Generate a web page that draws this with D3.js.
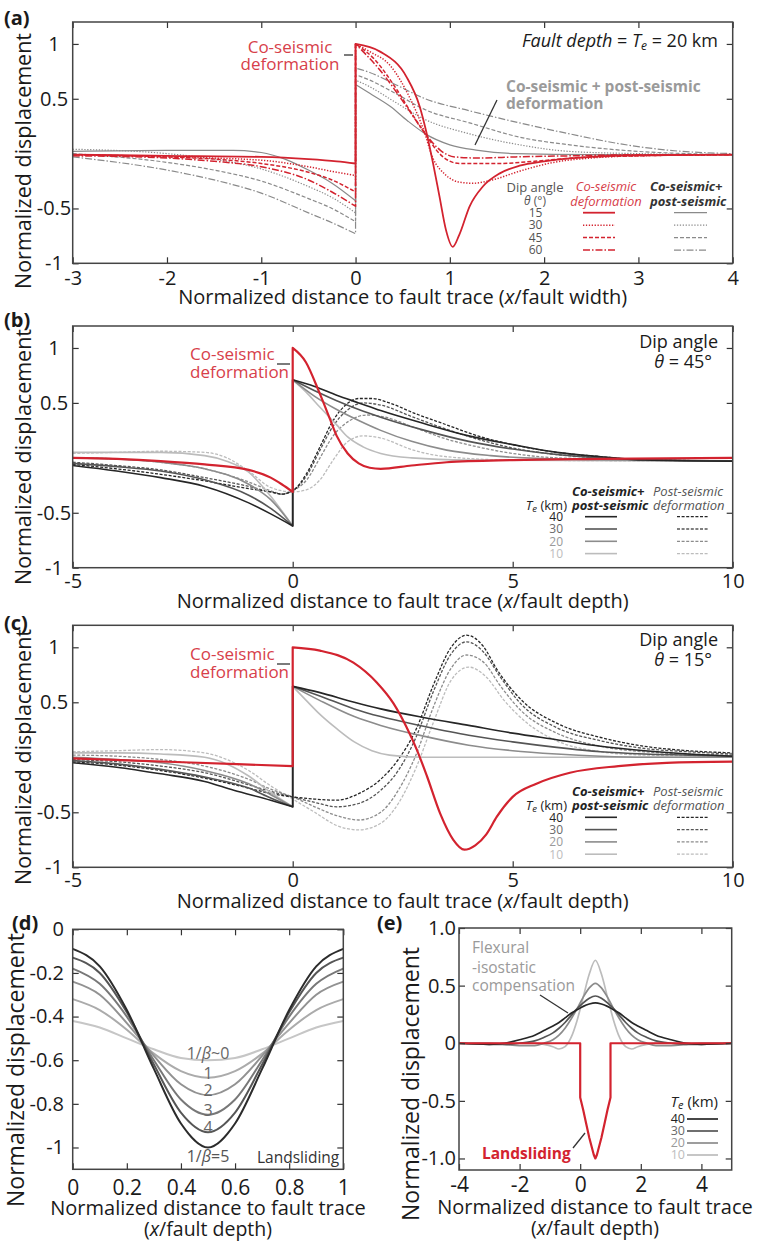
<!DOCTYPE html>
<html>
<head>
<meta charset="utf-8">
<script src="https://cdn.jsdelivr.net/npm/d3@7"></script>
<style>
  body { margin: 0; background: #fff; }
  svg text { font-family: "Open Sans", sans-serif; }
</style>
</head>
<body>
<svg id="fig" width="758" height="1244"></svg>
<script>
// ---------- (a) co-seismic vs co+post-seismic for four dip angles ----------
const aDipAngles = ["15", "30", "45", "60"];
const aXTicks = [-3, -2, -1, 0, 1, 2, 3, 4];
const aYTicks = [-1, -0.5, 0.5, 1];

const aCo15 = [[-3,-0.01],[-2,-0.02],[-1,-0.03],[-0.5,-0.05],[-0.2,-0.07],[0,-0.09],
  [0,1.0],[0.26,0.93],[0.54,0.7],[0.68,0.43],[0.75,0.2],[0.82,-0.08],[0.89,-0.39],[0.96,-0.7],[1.03,-0.85],
  [1.1,-0.74],[1.21,-0.48],[1.35,-0.3],[1.53,-0.18],[1.74,-0.11],[2.0,-0.07],[2.5,-0.03],[3.0,-0.015],[4,-0.01]];
const aCo30 = [[-3,-0.01],[-2,-0.03],[-1,-0.06],[-0.5,-0.12],[-0.2,-0.17],[0,-0.2],
  [0,1.0],[0.15,0.93],[0.37,0.8],[0.58,0.5],[0.72,0.22],[0.82,-0.04],[0.95,-0.19],[1.1,-0.26],[1.25,-0.27],
  [1.45,-0.24],[1.74,-0.16],[2.1,-0.08],[2.5,-0.04],[3,-0.02],[4,-0.01]];
const aCo45 = [[-3,-0.01],[-2,-0.03],[-1.5,-0.05],[-1,-0.09],[-0.5,-0.17],[-0.25,-0.24],[0,-0.35],
  [0,1.0],[0.2,0.86],[0.44,0.58],[0.6,0.36],[0.74,0.18],[0.89,0.0],[1.1,-0.09],[1.5,-0.09],[1.9,-0.07],
  [2.3,-0.04],[3,-0.02],[4,-0.01]];
const aCo60 = [[-3,-0.02],[-2,-0.04],[-1.5,-0.07],[-1,-0.12],[-0.5,-0.24],[-0.25,-0.35],[0,-0.48],
  [0,1.0],[0.26,0.76],[0.54,0.43],[0.74,0.18],[0.9,0.03],[1.05,-0.03],[1.3,-0.04],[1.7,-0.03],[2.3,-0.02],
  [3,-0.01],[4,-0.01]];

const aTot15 = [[-3,0.02],[-2,0.03],[-1.3,0.03],[-1,0.01],[-0.75,-0.05],[-0.5,-0.15],[-0.25,-0.27],[0,-0.43],
  [0,0.63],[0.15,0.55],[0.37,0.43],[0.55,0.3],[0.74,0.18],[1.0,0.08],[1.3,0.03],[1.7,0.0],[2.5,-0.01],[4,-0.01]];
const aTot30 = [[-3,0.04],[-2,0.0],[-1.5,-0.05],[-1,-0.14],[-0.5,-0.3],[-0.25,-0.4],[0,-0.54],
  [0,0.67],[0.15,0.61],[0.4,0.48],[0.74,0.31],[1.21,0.18],[1.74,0.08],[2.27,0.02],[3,0.0],[4,-0.01]];
const aTot45 = [[-3,0.0],[-2,-0.08],[-1.5,-0.15],[-1,-0.25],[-0.5,-0.41],[-0.25,-0.5],[0,-0.62],
  [0,0.72],[0.15,0.67],[0.4,0.56],[0.74,0.4],[1.21,0.28],[1.74,0.15],[2.27,0.08],[3,0.02],[3.5,0.0],[4,-0.01]];
const aTot60 = [[-3,-0.03],[-2,-0.15],[-1.5,-0.24],[-1,-0.36],[-0.5,-0.54],[-0.25,-0.63],[0,-0.73],
  [0,0.78],[0.15,0.74],[0.4,0.64],[0.74,0.5],[1.21,0.39],[1.74,0.28],[2.27,0.18],[2.8,0.09],[3.33,0.03],[4,0.0]];

// ---------- (b) dip 45°, four elastic thicknesses ----------
const teValues = ["40", "30", "20", "10"];
const bcXTicks = [-5, 0, 5, 10];
const bcYTicks = [-1, -0.5, 0.5, 1];

const bCo = [[-5,0.0],[-4,-0.01],[-3,-0.03],[-2,-0.06],[-1,-0.11],[-0.5,-0.18],[-0.25,-0.24],[0,-0.31],
  [0,1.0],[0.3,0.87],[0.6,0.6],[0.85,0.35],[1.0,0.2],[1.25,0.04],[1.5,-0.05],[1.75,-0.09],[2.0,-0.1],
  [2.7,-0.07],[3.5,-0.04],[5,-0.02],[7,-0.01],[10,0.0]];
const bTot40 = [[-5,-0.07],[-4,-0.12],[-3,-0.18],[-2,-0.26],[-1,-0.41],[-0.5,-0.51],[0,-0.62],
  [0,0.71],[0.5,0.65],[1,0.57],[1.5,0.5],[2,0.43],[3,0.31],[4,0.2],[5,0.12],[6,0.05],[7,0.01],[8,-0.02],[10,-0.03]];
const bTot30 = [[-5,-0.05],[-4,-0.08],[-3,-0.12],[-2,-0.2],[-1,-0.34],[-0.5,-0.46],[0,-0.62],
  [0,0.71],[0.5,0.61],[1,0.52],[1.5,0.44],[2,0.37],[3,0.25],[4,0.15],[5,0.08],[6,0.03],[7,0.0],[10,-0.03]];
const bTot20 = [[-5,0.0],[-4,-0.01],[-3,-0.04],[-2,-0.1],[-1,-0.24],[-0.5,-0.38],[0,-0.62],
  [0,0.71],[0.5,0.56],[1,0.44],[1.5,0.34],[2,0.25],[2.7,0.15],[3.5,0.07],[4.5,0.02],[6,-0.01],[10,-0.03]];
const bTot10 = [[-5,0.05],[-4,0.05],[-3,0.05],[-2,0.02],[-1.5,-0.03],[-1,-0.13],[-0.5,-0.35],[0,-0.62],
  [0,0.71],[0.3,0.6],[0.62,0.46],[1,0.3],[1.25,0.19],[1.6,0.1],[2,0.04],[2.7,0.0],[4,-0.02],[10,-0.03]];
const bPost40 = [[-5,-0.06],[-4,-0.1],[-3,-0.15],[-2,-0.21],[-1,-0.28],[-0.5,-0.31],[-0.25,-0.33],[0,-0.3],
  [0.32,-0.14],[0.62,0.1],[0.92,0.34],[1.23,0.49],[1.5,0.54],[1.8,0.54],[2.2,0.5],[2.74,0.41],[3.5,0.3],
  [4.2,0.2],[5,0.12],[6,0.05],[7,0.01],[8,-0.02],[10,-0.03]];
const bPost30 = [[-5,-0.04],[-4,-0.07],[-3,-0.11],[-2,-0.18],[-1,-0.26],[-0.5,-0.31],[-0.25,-0.33],[0,-0.3],
  [0.32,-0.16],[0.62,0.07],[0.92,0.29],[1.23,0.43],[1.6,0.5],[2,0.48],[2.74,0.37],[3.5,0.26],[4.2,0.17],
  [5,0.09],[6,0.03],[7,0.0],[10,-0.03]];
const bPost20 = [[-5,0.0],[-4,-0.01],[-3,-0.04],[-2,-0.1],[-1,-0.22],[-0.5,-0.3],[-0.25,-0.33],[0,-0.3],
  [0.32,-0.2],[0.62,0.0],[0.92,0.2],[1.3,0.34],[1.7,0.39],[2.1,0.37],[2.74,0.28],[3.5,0.17],[4.2,0.1],
  [5,0.04],[6,0.0],[10,-0.03]];
const bPost10 = [[-5,0.04],[-4,0.05],[-3,0.06],[-2,0.05],[-1.5,0.0],[-1,-0.12],[-0.5,-0.27],[0,-0.31],
  [0.32,-0.29],[0.62,-0.2],[0.92,-0.02],[1.23,0.14],[1.6,0.2],[2,0.18],[2.74,0.07],[3.5,0.01],[5,-0.02],[10,-0.03]];

// ---------- (c) dip 15° ----------
const cCo = [[-5,-0.01],[-2.5,-0.045],[0,-0.08],
  [0,1.0],[0.62,0.97],[1.38,0.86],[1.91,0.68],[2.29,0.49],[2.58,0.28],[2.82,0.07],[3.05,-0.17],[3.35,-0.51],
  [3.65,-0.75],[3.9,-0.84],[4.15,-0.8],[4.4,-0.7],[4.64,-0.54],[5.0,-0.36],[5.54,-0.24],[6.3,-0.14],
  [7.4,-0.08],[8.5,-0.05],[10,-0.04]];
const cTot40 = [[-5,-0.05],[-4,-0.09],[-3,-0.15],[-2,-0.22],[-1.34,-0.3],[-0.5,-0.39],[0,-0.45],
  [0,0.645],[0.6,0.59],[1.4,0.5],[2,0.44],[3,0.36],[4,0.29],[5,0.22],[6,0.16],[7,0.1],[8,0.06],[9,0.03],[10,0.01]];
const cTot30 = [[-5,-0.03],[-4,-0.06],[-3,-0.11],[-2,-0.18],[-1,-0.28],[-0.5,-0.37],[0,-0.45],
  [0,0.645],[0.6,0.56],[1.4,0.44],[2,0.37],[3,0.28],[4,0.2],[5,0.14],[6,0.09],[7,0.05],[8,0.03],[9,0.02],[10,0.01]];
const cTot20 = [[-5,0.0],[-4,-0.02],[-3,-0.05],[-2,-0.12],[-1,-0.24],[-0.5,-0.34],[0,-0.45],
  [0,0.645],[0.6,0.52],[1.4,0.37],[2,0.29],[3,0.19],[4,0.11],[5,0.06],[6,0.03],[7,0.01],[8,0.0],[10,0.0]];
const cTot10 = [[-5,0.04],[-4,0.04],[-3,0.03],[-2,0.0],[-1.5,-0.06],[-1,-0.17],[-0.5,-0.32],[0,-0.45],
  [0,0.645],[0.3,0.52],[0.62,0.39],[1,0.26],[1.4,0.14],[1.8,0.06],[2.2,0.02],[3,0.0],[10,0.0]];
const cPost40 = [[-5,-0.04],[-4,-0.07],[-3,-0.12],[-2,-0.19],[-1,-0.28],[-0.5,-0.33],[0,-0.36],[0.5,-0.38],
  [1,-0.39],[1.5,-0.33],[2,-0.2],[2.4,-0.02],[2.8,0.25],[3.2,0.66],[3.6,1.0],[3.95,1.11],[4.33,1.01],
  [4.64,0.8],[5.2,0.52],[6,0.31],[7,0.18],[8,0.1],[9,0.06],[10,0.04]];
const cPost30 = [[-5,-0.02],[-4,-0.04],[-3,-0.08],[-2,-0.14],[-1,-0.25],[-0.5,-0.31],[0,-0.36],[0.5,-0.41],
  [1,-0.45],[1.5,-0.42],[2,-0.3],[2.4,-0.12],[2.8,0.18],[3.2,0.6],[3.6,0.94],[3.95,1.05],[4.33,0.96],
  [4.7,0.74],[5.2,0.48],[6,0.27],[7,0.15],[8,0.08],[9,0.05],[10,0.03]];
const cPost20 = [[-5,0.02],[-4,0.01],[-3,-0.02],[-2,-0.08],[-1,-0.2],[-0.5,-0.29],[0,-0.36],[0.5,-0.45],
  [1,-0.53],[1.5,-0.57],[2,-0.5],[2.4,-0.3],[2.8,0.02],[3.2,0.46],[3.6,0.81],[3.95,0.93],[4.35,0.86],
  [4.7,0.66],[5.2,0.42],[6,0.22],[7,0.1],[8,0.05],[10,0.02]];
const cPost10 = [[-5,0.05],[-4,0.06],[-3,0.07],[-2,0.04],[-1.5,-0.02],[-1,-0.12],[-0.5,-0.26],[0,-0.38],
  [0.5,-0.5],[1,-0.62],[1.5,-0.66],[2,-0.6],[2.4,-0.42],[2.8,-0.1],[3.2,0.32],[3.6,0.7],[4.0,0.82],
  [4.4,0.73],[4.8,0.52],[5.3,0.32],[6,0.15],[7,0.05],[8,0.02],[10,0.01]];

// ---------- (d) landslide profiles for 1/beta = 0..5 ----------
const dX = [0, 0.1, 0.2, 0.3, 0.4, 0.5, 0.6, 0.7, 0.8, 0.9, 1];
const dBeta0 = [-0.42,-0.45,-0.5,-0.55,-0.59,-0.6,-0.59,-0.55,-0.5,-0.45,-0.42];
const dBeta1 = [-0.32,-0.37,-0.46,-0.57,-0.65,-0.68,-0.65,-0.57,-0.46,-0.37,-0.32];
const dBeta2 = [-0.24,-0.3,-0.43,-0.58,-0.71,-0.76,-0.71,-0.58,-0.43,-0.3,-0.24];
const dBeta3 = [-0.18,-0.25,-0.4,-0.6,-0.78,-0.85,-0.78,-0.6,-0.4,-0.25,-0.18];
const dBeta4 = [-0.13,-0.2,-0.38,-0.62,-0.84,-0.93,-0.84,-0.62,-0.38,-0.2,-0.13];
const dBeta5 = [-0.09,-0.17,-0.37,-0.64,-0.89,-1.0,-0.89,-0.64,-0.37,-0.17,-0.09];
const dLabels = ["1/β~0", "1", "2", "3", "4"];
const dXTicks = [0, 0.2, 0.4, 0.6, 0.8, 1];
const dYTicks = [0, -0.2, -0.4, -0.6, -0.8, -1];

// ---------- (e) landslide load and flexural-isostatic response ----------
const eX = [-4,-3,-2.5,-2,-1.5,-1.2,-0.9,-0.7,-0.5,-0.3,-0.1,0.1,0.3,0.5,0.7,0.9,1.1,1.3,1.5,1.7,1.9,2.2,2.5,3,3.5,4,5];
const eTe40 = [0,-0.01,0,0.03,0.07,0.11,0.15,0.18,0.22,0.26,0.29,0.32,0.34,0.35,0.34,0.32,0.29,0.26,0.22,0.18,0.15,0.11,0.07,0.03,0,-0.01,0];
const eTe30 = [0,-0.01,-0.01,0,0.02,0.05,0.09,0.13,0.18,0.24,0.3,0.35,0.39,0.41,0.39,0.35,0.3,0.24,0.18,0.13,0.09,0.05,0.02,0,-0.01,-0.01,0];
const eTe20 = [0,0,-0.01,-0.02,-0.02,0,0.03,0.07,0.13,0.21,0.3,0.4,0.48,0.52,0.48,0.4,0.3,0.21,0.13,0.07,0.03,0,-0.02,-0.02,-0.01,0,0];
const eTe10 = [0,0,0,0,0,-0.01,-0.03,-0.05,-0.03,0.05,0.2,0.4,0.6,0.72,0.6,0.4,0.2,0.05,-0.03,-0.05,-0.03,-0.01,0,0,0,0,0];
const eSlideX = [-4,0,0,0.1,0.2,0.3,0.4,0.45,0.5,0.55,0.6,0.7,0.8,0.9,1,1,5];
const eSlideY = [0,0,-0.47,-0.58,-0.7,-0.82,-0.92,-0.97,-1.0,-0.97,-0.92,-0.82,-0.7,-0.58,-0.47,0,0];
const eXTicks = [-4, -2, 0, 2, 4];
const eYTicks = [1, 0.5, 0, -0.5, -1];
const eYLabels = ["1.0", "0.5", "0", "-0.5", "-1.0"];

// ---------- drawing ----------
const svg = d3.select("#fig");
const RED = "#d3232f";
const RED_TEXT = "#d7404a";
const GRAY_A = "#8a8a8a";
const TE_LINE = ["#262626", "#555555", "#8c8c8c", "#bcbcbc"];
const TE_TEXT = ["#222222", "#6a6a6a", "#9a9a9a", "#bdbdbd"];
const DASH_A = [null, "1.3,1.6", "4,2", "7,2,1.5,2"];

let clipId = 0;
function makePanel(left, right, top, bottom, xd, yd) {
  const x = d3.scaleLinear().domain(xd).range([left, right]);
  const y = d3.scaleLinear().domain(yd).range([bottom, top]);
  const g = svg.append("g");
  const id = "clip" + (clipId++);
  g.append("clipPath").attr("id", id).append("rect")
    .attr("x", left).attr("y", top).attr("width", right - left).attr("height", bottom - top);
  const plot = g.append("g").attr("clip-path", `url(#${id})`);
  return { x, y, g, plot, left, right, top, bottom };
}

function axes(P, o) {
  const fmt = o.xf || (d => String(d));
  const gx = P.g.append("g").attr("transform", `translate(0,${P.bottom})`)
    .call(d3.axisBottom(P.x).tickValues(o.xt).tickSize(-6).tickPadding(o.xpad).tickFormat(fmt));
  const gy = P.g.append("g").attr("transform", `translate(${P.left},0)`)
    .call(d3.axisLeft(P.y).tickValues(o.yt).tickSize(-6).tickPadding(o.ypad).tickFormat(o.yf || (d => String(d))));
  P.g.append("g").attr("transform", `translate(0,${P.top})`)
    .call(d3.axisTop(P.x).tickValues(o.xt).tickSize(-6).tickFormat(""));
  P.g.append("g").attr("transform", `translate(${P.right},0)`)
    .call(d3.axisRight(P.y).tickValues(o.yt).tickSize(-6).tickFormat(""));
  P.g.selectAll(".domain").remove();
  P.g.selectAll(".tick line").attr("stroke", "#333").attr("stroke-width", 1.2);
  [gx, gy].forEach(a => a.attr("font-family", null).attr("font-size", o.fs).selectAll("text").attr("fill", "#1a1a1a"));
  gx.attr("font-size", o.xfs || o.fs);
  if (o.ymid !== undefined) gy.selectAll("text").attr("text-anchor", "middle").attr("x", o.ymid - P.left);
  P.g.append("rect").attr("x", P.left).attr("y", P.top)
    .attr("width", P.right - P.left).attr("height", P.bottom - P.top)
    .attr("fill", "none").attr("stroke", "#444").attr("stroke-width", 1.5);
}

// a curve may jump vertically where the same x appears twice
function jumpPath(P, pts, curve) {
  const pieces = [[pts[0]]];
  for (let i = 1; i < pts.length; i++) {
    if (pts[i][0] === pts[i - 1][0]) pieces.push([pts[i]]);
    else pieces[pieces.length - 1].push(pts[i]);
  }
  const line = d3.line().x(d => P.x(d[0])).y(d => P.y(d[1])).curve(curve || d3.curveMonotoneX);
  return pieces.map((s, i) => {
    const p = line(s).replace(/Z$/, "");
    return i ? p.replace(/^M/, "L") : p;
  }).join("");
}

function drawCurve(P, pts, stroke, width, dash, curve) {
  P.plot.append("path").attr("d", jumpPath(P, pts, curve))
    .attr("fill", "none").attr("stroke", stroke).attr("stroke-width", width)
    .attr("stroke-dasharray", dash).attr("stroke-linejoin", "round");
}

function text(x, y, parts, o = {}) {
  const t = svg.append("text").attr("x", x).attr("y", y)
    .attr("font-size", o.size || 20).attr("fill", o.fill || "#1a1a1a")
    .attr("text-anchor", o.anchor || "start");
  if (o.weight) t.attr("font-weight", o.weight);
  if (o.italic) t.attr("font-style", "italic");
  if (o.transform) t.attr("transform", o.transform);
  (typeof parts === "string" ? [[parts]] : parts).forEach(p => {
    const s = t.append("tspan").text(p[0]);
    const st = p[1] || {};
    if (st.italic) s.attr("font-style", "italic");
    if (st.size) s.attr("font-size", st.size);
    if (st.dy) s.attr("dy", st.dy);
  });
  return t;
}

function seg(x1, y1, x2, y2, stroke, width, dash) {
  svg.append("line").attr("x1", x1).attr("y1", y1).attr("x2", x2).attr("y2", y2)
    .attr("stroke", stroke).attr("stroke-width", width).attr("stroke-dasharray", dash);
}

function yTitle(x, y, size) {
  text(0, 0, "Normalized displacement", { size, anchor: "middle", transform: `translate(${x},${y}) rotate(-90)` });
}

// ----- panel (a)
const A = makePanel(72.7, 732.7, 22, 263.3, [-3, 4], [-1, 1.2]);
[aTot15, aTot30, aTot45, aTot60].forEach((c, i) => drawCurve(A, c, GRAY_A, 1.2, DASH_A[i]));
[aCo15, aCo30, aCo45, aCo60].forEach((c, i) => drawCurve(A, c, RED, i ? 1.5 : 1.8, DASH_A[i]));
axes(A, { xt: aXTicks, yt: aYTicks, xpad: 7.5, ypad: 10, fs: 20, ymid: 54 });
text(4, 25, "(a)", { size: 20, weight: "bold" });
yTitle(31, 161, 21.5);
text(402.7, 304, [["Normalized distance to fault trace ("], ["x", { italic: true }], ["/fault width)"]], { anchor: "middle" });
text(718, 47, [["Fault depth", { italic: true }], [" = "], ["T", { italic: true }], ["e", { italic: true, size: 12, dy: 3 }],
  [" = 20 km", { dy: -3 }]], { size: 18, anchor: "end" });
text(290, 53, "Co-seismic", { size: 17, fill: RED_TEXT, anchor: "middle" });
text(290, 70, "deformation", { size: 17, fill: RED_TEXT, anchor: "middle" });
seg(344, 55, 353, 55, "#333", 1.3);
text(506, 92, "Co-seismic + post-seismic", { size: 15.5, weight: "bold", fill: "#9a9a9a" });
text(506, 109, "deformation", { size: 15.5, weight: "bold", fill: "#9a9a9a" });
seg(497, 100, 475, 145, "#333", 1.3);
// legend of dip angles
text(535, 191.5, "Dip angle", { size: 13, fill: "#555", anchor: "middle" });
text(535, 205, [["θ", { italic: true }], [" (°)"]], { size: 12, fill: "#555", anchor: "middle" });
text(606, 191, "Co-seismic", { size: 13, fill: RED_TEXT, italic: true, anchor: "middle" });
text(606, 205.5, "deformation", { size: 13, fill: RED_TEXT, italic: true, anchor: "middle" });
text(650, 191, "Co-seismic+", { size: 13, fill: "#333", italic: true, weight: "bold" });
text(650, 205.5, "post-seismic", { size: 13, fill: "#333", italic: true, weight: "bold" });
aDipAngles.forEach((lab, i) => {
  const yy = 212.7 + i * 12.45;
  text(535.5, yy + 4.3, lab, { size: 12, fill: "#555", anchor: "middle" });
  seg(583, yy, 615, yy, RED, i ? 1.5 : 1.8, DASH_A[i]);
  seg(674, yy, 707, yy, GRAY_A, 1.3, DASH_A[i]);
});

// ----- panels (b) and (c)
function tePanel(P, co, totals, posts, letter, letterY, dip, dipY, coY, legY, xpad) {
  posts.slice().reverse().forEach((c, j) => drawCurve(P, c, TE_LINE[3 - j], 1.3, "3,1.6"));
  totals.slice().reverse().forEach((c, j) => drawCurve(P, c, TE_LINE[3 - j], 1.6, null));
  drawCurve(P, co, RED, 2.2, null);
  axes(P, { xt: bcXTicks, yt: bcYTicks, xpad, ypad: 10, fs: 20, ymid: 54 });
  text(4, letterY, letter, { size: 20, weight: "bold" });
  text(718, dipY, "Dip angle", { size: 18, anchor: "end" });
  text(712, dipY + 20, [["θ", { italic: true }], [" = " + dip + "°"]], { size: 18, anchor: "end" });
  text(190, coY, "Co-seismic", { size: 17, fill: RED_TEXT });
  text(190, coY + 18, "deformation", { size: 17, fill: RED_TEXT });
  seg(277, coY + 4, 290, coY + 4, "#333", 1.3);
  text(572, legY - 21, "Co-seismic+", { size: 13, fill: "#222", italic: true, weight: "bold" });
  text(572, legY - 7, "post-seismic", { size: 13, fill: "#222", italic: true, weight: "bold" });
  text(653, legY - 21, "Post-seismic", { size: 13, fill: "#555", italic: true });
  text(653, legY - 7, "deformation", { size: 13, fill: "#555", italic: true });
  text(567, legY - 7, [["T", { italic: true }], ["e", { italic: true, size: 9.5, dy: 2 }], [" (km)", { dy: -2 }]], { size: 13, fill: "#222", anchor: "end" });
  teValues.forEach((lab, i) => {
    const yy = legY + i * 12.3;
    text(563, yy + 4.3, lab, { size: 12, fill: TE_TEXT[i], anchor: "end" });
    seg(585, yy, 617, yy, TE_LINE[i], 1.6);
    seg(677, yy, 708, yy, TE_LINE[i], 1.3, "3,1.6");
  });
}

const B = makePanel(72.7, 732.7, 326, 567.7, [-5, 10], [-1, 1.2]);
tePanel(B, bCo, [bTot40, bTot30, bTot20, bTot10], [bPost40, bPost30, bPost20, bPost10],
  "(b)", 327, "45", 348, 360, 516.7, 6.1);
yTitle(31, 457, 21.5);
text(402.7, 608, [["Normalized distance to fault trace ("], ["x", { italic: true }], ["/fault depth)"]], { anchor: "middle" });

const C = makePanel(72.7, 732.7, 625.3, 867.3, [-5, 10], [-1, 1.2]);
tePanel(C, cCo, [cTot40, cTot30, cTot20, cTot10], [cPost40, cPost30, cPost20, cPost10],
  "(c)", 630, "15", 646, 660, 817.3, 5);
yTitle(31, 757, 21.5);
text(402.7, 908, [["Normalized distance to fault trace ("], ["x", { italic: true }], ["/fault depth)"]], { anchor: "middle" });

// ----- panel (d)
const D = makePanel(72.7, 343.3, 929.3, 1169.3, [0, 1], [-1.1, 0]);
const dCurves = [dBeta0, dBeta1, dBeta2, dBeta3, dBeta4, dBeta5];
const dColors = ["#c6c6c6", "#ababab", "#929292", "#787878", "#565656", "#2c2c2c"];
dCurves.forEach((ys, i) => drawCurve(D, d3.zip(dX, ys), dColors[i], 2, null));
axes(D, { xt: dXTicks, yt: dYTicks, xpad: 10.8, ypad: 8.7, fs: 20, xfs: 21 });
dLabels.forEach((lab, i) => {
  const ymin = d3.min(dCurves[i]);
  text(D.x(0.5), D.y(ymin) + (i ? 1 : -1), lab.includes("β") ? [["1/"], ["β", { italic: true }], [lab.slice(3)]] : lab,
    { size: 16, fill: "#666", anchor: "middle" });
});
text(D.x(0.5), D.y(d3.min(dBeta5)) + 15, [["1/"], ["β", { italic: true }], ["=5"]], { size: 16, fill: "#555", anchor: "middle" });
text(257, 1163, "Landsliding", { size: 15.5, fill: "#333" });
text(12, 930, "(d)", { size: 20, weight: "bold" });
yTitle(24, 1070, 23);
text(208, 1215, "Normalized distance to fault trace", { size: 20, anchor: "middle" });
text(208, 1236, [["("], ["x", { italic: true }], ["/fault depth)"]], { size: 19.5, anchor: "middle" });

// ----- panel (e)
const E = makePanel(459, 731.7, 928, 1170, [-4, 5], [-1.1, 1]);
[eTe10, eTe20, eTe30, eTe40].forEach((ys, j) => drawCurve(E, d3.zip(eX, ys), TE_LINE[3 - j], 1.7, null));
drawCurve(E, d3.zip(eSlideX, eSlideY), RED, 2.2, null, d3.curveLinear);
axes(E, { xt: eXTicks, yt: eYTicks, xpad: 7.1, ypad: 3, fs: 20, xfs: 21, yf: (d, i) => eYLabels[i] });
text(377, 930, "(e)", { size: 20, weight: "bold" });
yTitle(419, 1084, 23);
text(595, 1214, "Normalized distance to fault trace", { size: 20, anchor: "middle" });
text(595, 1235, [["("], ["x", { italic: true }], ["/fault depth)"]], { size: 19.5, anchor: "middle" });
text(472, 953, "Flexural", { size: 15.5, fill: "#9a9a9a" });
text(472, 973, "-isostatic", { size: 15.5, fill: "#9a9a9a" });
text(472, 991, "compensation", { size: 15.5, fill: "#9a9a9a" });
seg(540, 995, 568, 1013, "#333", 1.3);
text(482, 1159, "Landsliding", { size: 15.5, weight: "bold", fill: RED });
seg(573, 1148, 585, 1133, "#333", 1.3);
text(718, 1107, [["T", { italic: true }], ["e", { italic: true, size: 11, dy: 2 }], [" (km)", { dy: -2 }]], { size: 15, fill: "#222", anchor: "end" });
teValues.forEach((lab, i) => {
  const yy = 1119 + i * 12;
  text(685, yy + 4.3, lab, { size: 12.5, fill: TE_TEXT[i], anchor: "end" });
  seg(687, yy, 718, yy, TE_LINE[i], 1.7);
});
</script>
</body>
</html>
